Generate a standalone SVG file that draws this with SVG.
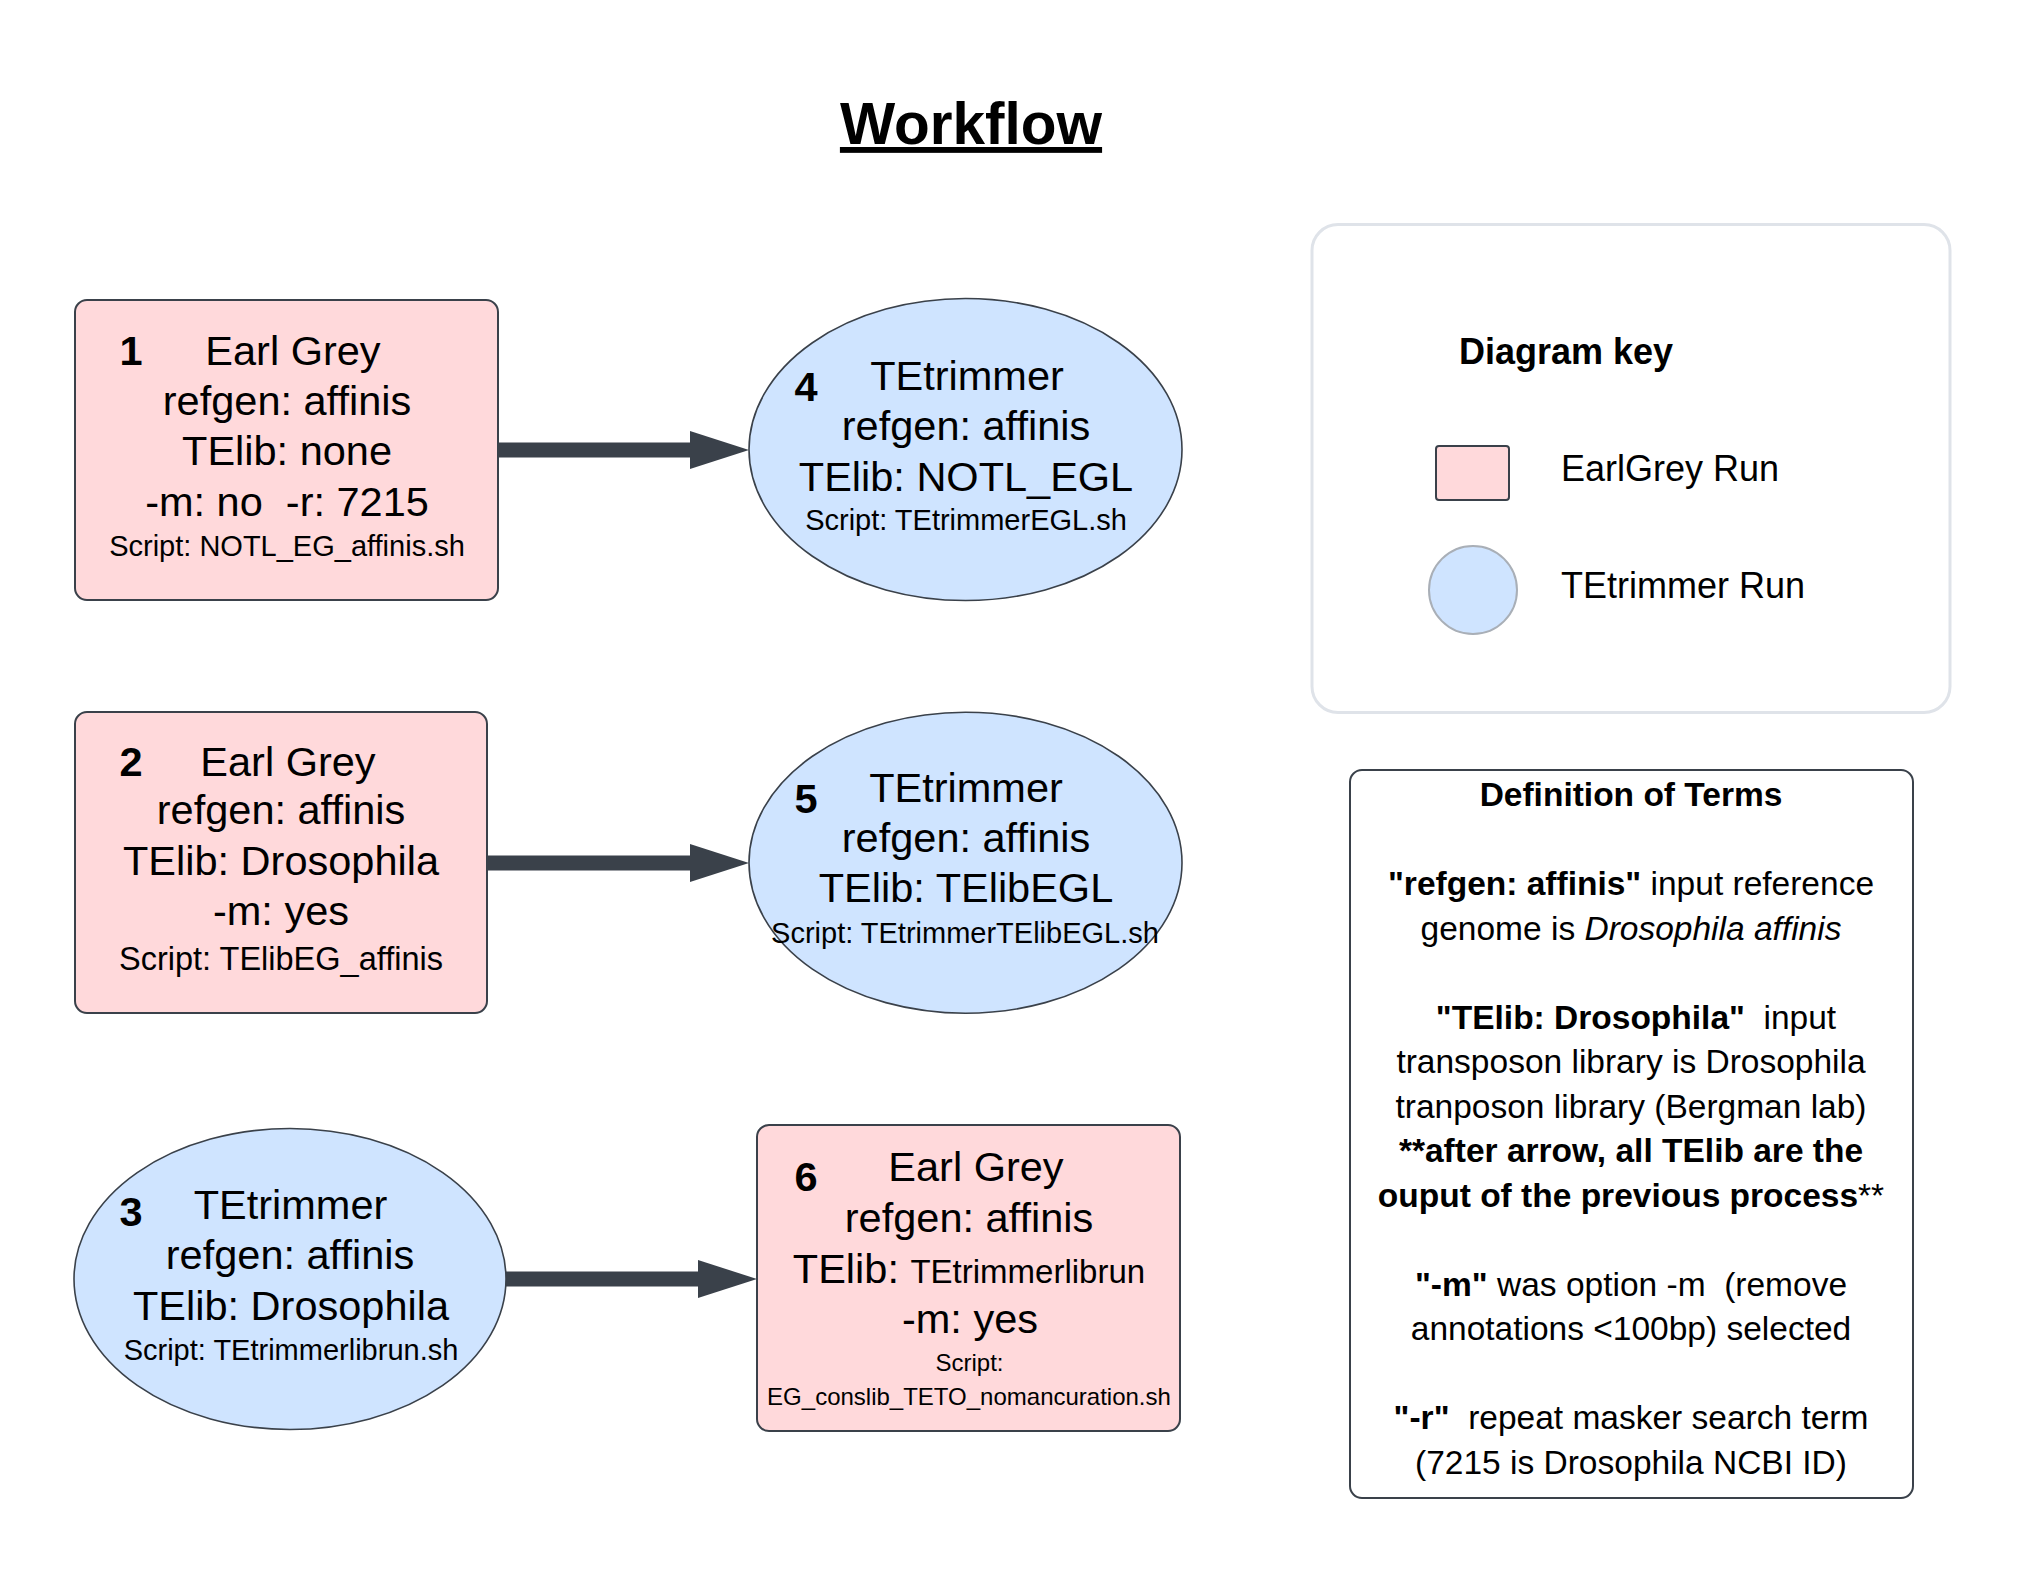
<svg xmlns="http://www.w3.org/2000/svg" width="2025" height="1573" viewBox="0 0 2025 1573">
<style>
text { font-family: "Liberation Sans", Arial, sans-serif; fill: #000; }
.c { text-anchor: middle; }
.big { font-size: 41.5px; }
.num { font-size: 41.5px; font-weight: bold; text-anchor: middle; }
.scr { font-size: 29px; }
.eg { fill: #ffd9db; stroke: #3a414a; stroke-width: 2; }
.te { fill: #cfe4ff; stroke: #3a414a; stroke-width: 1.6; }
.conn { stroke: #3a414a; stroke-width: 15; fill: none; marker-end: url(#ah); }
.def { font-size: 33.5px; text-anchor: middle; }
.b { font-weight: bold; }
.key { font-size: 36px; }
</style>
<defs>
<marker id="ah" markerUnits="userSpaceOnUse" markerWidth="60" markerHeight="40" refX="0" refY="19" orient="auto">
<path d="M0,0 L59,19 L0,38 Z" fill="#3a414a"/>
</marker>
</defs>
<rect width="2025" height="1573" fill="#fff"/>

<g id="title">
<text x="971" y="144" class="c b" font-size="58.5" text-decoration="underline">Workflow</text>
</g>

<g id="connectors">
<line class="conn" x1="496" y1="450" x2="690" y2="450"/>
<line class="conn" x1="485" y1="863" x2="690" y2="863"/>
<line class="conn" x1="504" y1="1279" x2="698" y2="1279"/>
</g>

<g id="node1">
<rect class="eg" x="75" y="300" width="423" height="300" rx="12"/>
<text x="131" y="365" class="num">1</text>
<text x="293" y="365" class="big c">Earl Grey</text>
<text x="287" y="415" class="big c">refgen: affinis</text>
<text x="287" y="465" class="big c">TElib: none</text>
<text x="287" y="515.5" class="big c">-m: no&#160; -r: 7215</text>
<text x="287" y="556" class="scr c">Script: NOTL_EG_affinis.sh</text>
</g>

<g id="node2">
<rect class="eg" x="75" y="712" width="412" height="301" rx="12"/>
<text x="131" y="776" class="num">2</text>
<text x="288" y="775.5" class="big c">Earl Grey</text>
<text x="281" y="824" class="big c">refgen: affinis</text>
<text x="281" y="875" class="big c">TElib: Drosophila</text>
<text x="281" y="925" class="big c">-m: yes</text>
<text x="281" y="970" class="c" font-size="32.5">Script: TElibEG_affinis</text>
</g>

<g id="node3">
<ellipse class="te" cx="290" cy="1279" rx="216" ry="150.5"/>
<text x="131" y="1226" class="num">3</text>
<text x="290.5" y="1219" class="big c">TEtrimmer</text>
<text x="290" y="1269" class="big c">refgen: affinis</text>
<text x="291" y="1320" class="big c">TElib: Drosophila</text>
<text x="291" y="1360" class="scr c">Script: TEtrimmerlibrun.sh</text>
</g>

<g id="node4">
<ellipse class="te" cx="965.5" cy="449.5" rx="216.5" ry="151"/>
<text x="806" y="401" class="num">4</text>
<text x="967" y="390" class="big c">TEtrimmer</text>
<text x="966" y="440" class="big c">refgen: affinis</text>
<text x="966" y="490.6" class="big c">TElib: NOTL_EGL</text>
<text x="966" y="530" class="scr c">Script: TEtrimmerEGL.sh</text>
</g>

<g id="node5">
<ellipse class="te" cx="965.5" cy="862.7" rx="216.5" ry="150.5"/>
<text x="806" y="812.7" class="num">5</text>
<text x="966" y="802.4" class="big c">TEtrimmer</text>
<text x="966" y="852" class="big c">refgen: affinis</text>
<text x="966" y="902" class="big c">TElib: TElibEGL</text>
<text x="965" y="943" class="scr c">Script: TEtrimmerTElibEGL.sh</text>
</g>

<g id="node6">
<rect class="eg" x="757" y="1125" width="423" height="306" rx="12"/>
<text x="806" y="1191" class="num">6</text>
<text x="976" y="1181" class="big c">Earl Grey</text>
<text x="969" y="1232" class="big c">refgen: affinis</text>
<text x="969" y="1283" class="big c">TElib: <tspan font-size="33">TEtrimmerlibrun</tspan></text>
<text x="970" y="1332.5" class="big c">-m: yes</text>
<text x="969.5" y="1371" class="c" font-size="24">Script:</text>
<text x="969" y="1405" class="c" font-size="24">EG_conslib_TETO_nomancuration.sh</text>
</g>

<g id="legend">
<rect x="1312" y="224.5" width="638" height="488" rx="26" fill="#fff" stroke="#dfe3e9" stroke-width="3"/>
<text x="1459" y="364" class="key b">Diagram key</text>
<rect class="eg" x="1436" y="446" width="73" height="54" rx="3"/>
<text x="1561" y="481" class="key">EarlGrey Run</text>
<circle cx="1473" cy="590" r="44" fill="#cfe4ff" stroke="#a9afb7" stroke-width="2"/>
<text x="1561" y="598" class="key">TEtrimmer Run</text>
</g>

<g id="definitions">
<rect x="1350" y="770" width="563" height="728" rx="12" fill="#fff" stroke="#3a414a" stroke-width="2"/>
<text x="1631" y="806" class="def b">Definition of Terms</text>
<text x="1631" y="895" class="def"><tspan class="b">"refgen: affinis"</tspan> input reference</text>
<text x="1631" y="939.6" class="def">genome is <tspan font-style="italic">Drosophila affinis</tspan></text>
<text x="1636" y="1028.7" class="def"><tspan class="b">"TElib: Drosophila"</tspan>&#160; input</text>
<text x="1631" y="1073.2" class="def">transposon library is Drosophila</text>
<text x="1631" y="1117.7" class="def">tranposon library (Bergman lab)</text>
<text x="1631" y="1162.2" class="def b">**after arrow, all TElib are the</text>
<text x="1631" y="1206.8" class="def"><tspan class="b">ouput of the previous process</tspan>**</text>
<text x="1631" y="1295.8" class="def"><tspan class="b">"-m"</tspan> was option -m&#160; (remove</text>
<text x="1631" y="1340.4" class="def">annotations &lt;100bp) selected</text>
<text x="1631" y="1429.4" class="def"><tspan class="b">"-r"</tspan>&#160; repeat masker search term</text>
<text x="1631" y="1474" class="def">(7215 is Drosophila NCBI ID)</text>
</g>
</svg>
